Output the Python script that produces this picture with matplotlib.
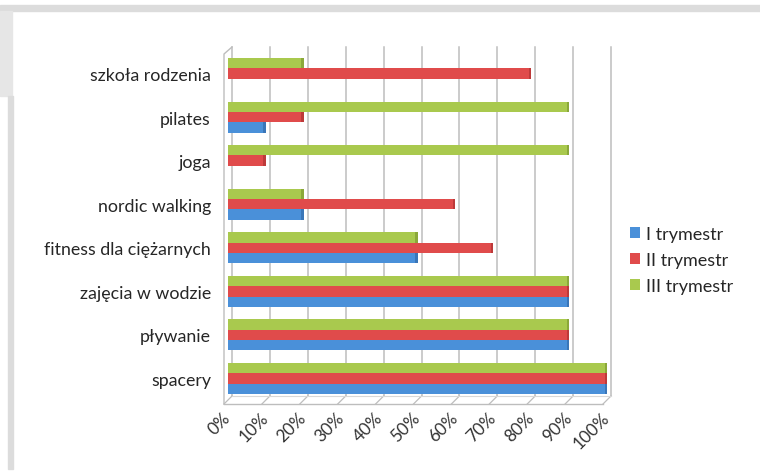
import numpy as np
import matplotlib.pyplot as plt
from matplotlib.patches import Rectangle

plt.rcParams['font.family'] = ['Lato', 'DejaVu Sans']

# Data (fractions of respondents)
categories = ['szkoła rodzenia', 'pilates', 'joga', 'nordic walking',
              'fitness dla ciężarnych', 'zajęcia w wodzie', 'pływanie', 'spacery']
trym_1 = [0.0, 0.1, 0.0, 0.2, 0.5, 0.9, 0.9, 1.0]
trym_2 = [0.8, 0.2, 0.1, 0.6, 0.7, 0.9, 0.9, 1.0]
trym_3 = [0.2, 0.9, 0.9, 0.2, 0.5, 0.9, 0.9, 1.0]
series_names = ['I trymestr', 'II trymestr', 'III trymestr']
xticks = np.arange(0, 1.01, 0.1)
xtick_labels = ['%d%%' % round(v * 100) for v in xticks]

colors = ['#4a90d9', '#e04b4b', '#a9c94e']
cap_colors = ['#3a76b8', '#bd3a3a', '#8ba83a']

W, H = 760, 477
fig = plt.figure(figsize=(W / 100, H / 100), dpi=100)

# page background pieces
fig.patches.append(Rectangle((0, 1 - 12 / H), 1, 6 / H, transform=fig.transFigure,
                             color='#dcdcdc', zorder=0))
fig.patches.append(Rectangle((0, 1 - 97 / H), 12 / W, 85 / H, transform=fig.transFigure,
                             color='#e6e6e6', zorder=0))
fig.patches.append(Rectangle((8 / W, 7 / H), 4.5 / W, (H - 104) / H, transform=fig.transFigure,
                             color='#dcdcdc', zorder=0))

# axes placement in pixels
ax_l, ax_r, ax_t, ax_b = 220, 615, 45, 410
ax = fig.add_axes([ax_l / W, 1 - ax_b / H, (ax_r - ax_l) / W, (ax_b - ax_t) / H])
ax.set_facecolor('none')

x0_px, unit_px = 228, 379.0
y0_px, cat_px = 74.5, 43.57
ax.set_xlim((ax_l - x0_px) / unit_px, (ax_r - x0_px) / unit_px)
ax.set_ylim((ax_b - y0_px) / cat_px, (ax_t - y0_px) / cat_px)


def px_x(p):
    return (p - x0_px) / unit_px


def px_y(p):
    return (p - y0_px) / cat_px


dx = px_x(x0_px + 4) - px_x(x0_px)
y_top = px_y(48)
y_back = px_y(397)
y_front = px_y(405)
grid_c = '#bdbdbd'

# back wall gridlines and floor
for v in xticks:
    ax.plot([v + dx, v + dx], [y_top, y_back], color=grid_c, lw=1.1, zorder=1, clip_on=False)
    ax.plot([v - dx, v + dx], [y_front, y_back], color=grid_c, lw=0.9, zorder=1, clip_on=False)
ax.plot([-dx, 1 - dx], [y_front, y_front], color=grid_c, lw=1.0, zorder=1, clip_on=False)
ax.plot([dx, 1 + dx], [y_back, y_back], color='#d8d8d8', lw=0.8, zorder=1, clip_on=False)
ax.plot([-dx, -dx, dx], [y_front, px_y(55), y_top], color=grid_c, lw=1.0, zorder=1, clip_on=False)

y = np.arange(len(categories))
bh = 0.237
cap = px_x(x0_px + 2.5) - px_x(x0_px)
for vals, off, c, cc, name in zip([trym_1, trym_2, trym_3], [bh, 0, -bh], colors,
                                  cap_colors, series_names):
    vals = np.array(vals)
    # darker end cap for a slight 3D look
    ax.barh(y + off, np.where(vals > 0, cap, 0), left=np.maximum(vals - cap, 0),
            height=bh, color=cc, linewidth=0, zorder=3)
    ax.barh(y + off, np.maximum(vals - cap, 0), height=bh, color=c, linewidth=0,
            label=name, zorder=3)

ax.set_yticks(y)
ax.set_yticklabels(categories, fontsize=12.8, color='#262626')
ax.set_xticks(xticks)
ax.set_xticklabels(xtick_labels, fontsize=12.3, color='#333333', rotation=45,
                   ha='right', va='center', rotation_mode='anchor')
ax.tick_params(axis='y', length=0, pad=6.5)
ax.tick_params(axis='x', length=0, pad=4)
for s in ax.spines.values():
    s.set_visible(False)

handles, labels = ax.get_legend_handles_labels()
fig.legend(handles, labels, loc='upper left', bbox_to_anchor=(614 / W, 1 - 211 / H),
           frameon=False, fontsize=13, handlelength=0.55, handleheight=0.55,
           handletextpad=0.35, labelspacing=0.55, labelcolor='#262626')

fig.savefig('out.png', dpi=100)
